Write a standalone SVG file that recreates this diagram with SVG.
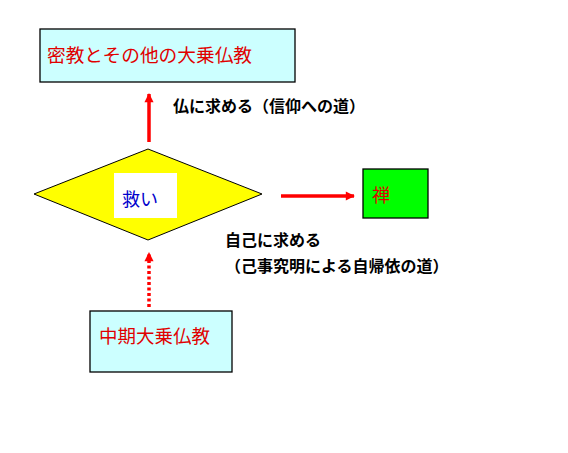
<svg xmlns="http://www.w3.org/2000/svg" width="568" height="453" viewBox="0 0 568 453">
<style>
text{font-family:"Noto Sans CJK JP","Noto Sans CJK SC",sans-serif}
.box{stroke:#000;stroke-width:1.3}
.red{fill:#e00000}
.lbl{fill:#000;font-size:16px;font-weight:bold}
.conn{stroke:#f00;stroke-width:3.5;fill:none}
</style>
<defs>
<marker id="ah" viewBox="0 0 10 10" refX="9" refY="5" markerWidth="3" markerHeight="2.6" orient="auto" markerUnits="strokeWidth">
<path d="M0,0 L10,5 L0,10 Z" fill="#f00"/>
</marker>
</defs>
<rect width="568" height="453" fill="#fff"/>
<g id="connectors">
<line class="conn" x1="149" y1="142" x2="149" y2="94" marker-end="url(#ah)"/>
<line class="conn" x1="149" y1="307" x2="149" y2="253" stroke-dasharray="3,2.5" marker-end="url(#ah)"/>
<line class="conn" x1="281" y1="196" x2="354" y2="196" marker-end="url(#ah)"/>
</g>
<g id="mikkyo">
<rect class="box" x="40" y="29" width="255" height="53" fill="#ccffff"/>
<text class="red" x="47" y="62" font-size="18.7">密教とその他の大乗仏教</text>
</g>
<g id="label-top">
<text class="lbl" x="173" y="112">仏に求める（信仰への道）</text>
</g>
<g id="sukui">
<polygon points="148,149 262,194 148,240 34,194" fill="#ffff00" stroke="#000" stroke-width="1"/>
<rect x="114" y="173" width="63" height="45" fill="#fff"/>
<text x="122" y="206" font-size="18" fill="#0000cc">救い</text>
</g>
<g id="zen">
<rect class="box" x="363" y="169" width="65" height="49" fill="#00ff00"/>
<text class="red" x="372" y="202" font-size="18">禅</text>
</g>
<g id="label-right">
<text class="lbl" x="225" y="246">自己に求める</text>
<text class="lbl" x="225" y="272">（己事究明による自帰依の道）</text>
</g>
<g id="chuki">
<rect class="box" x="90" y="311" width="142" height="61" fill="#ccffff"/>
<text class="red" x="99" y="343" font-size="18.5">中期大乗仏教</text>
</g>
</svg>
